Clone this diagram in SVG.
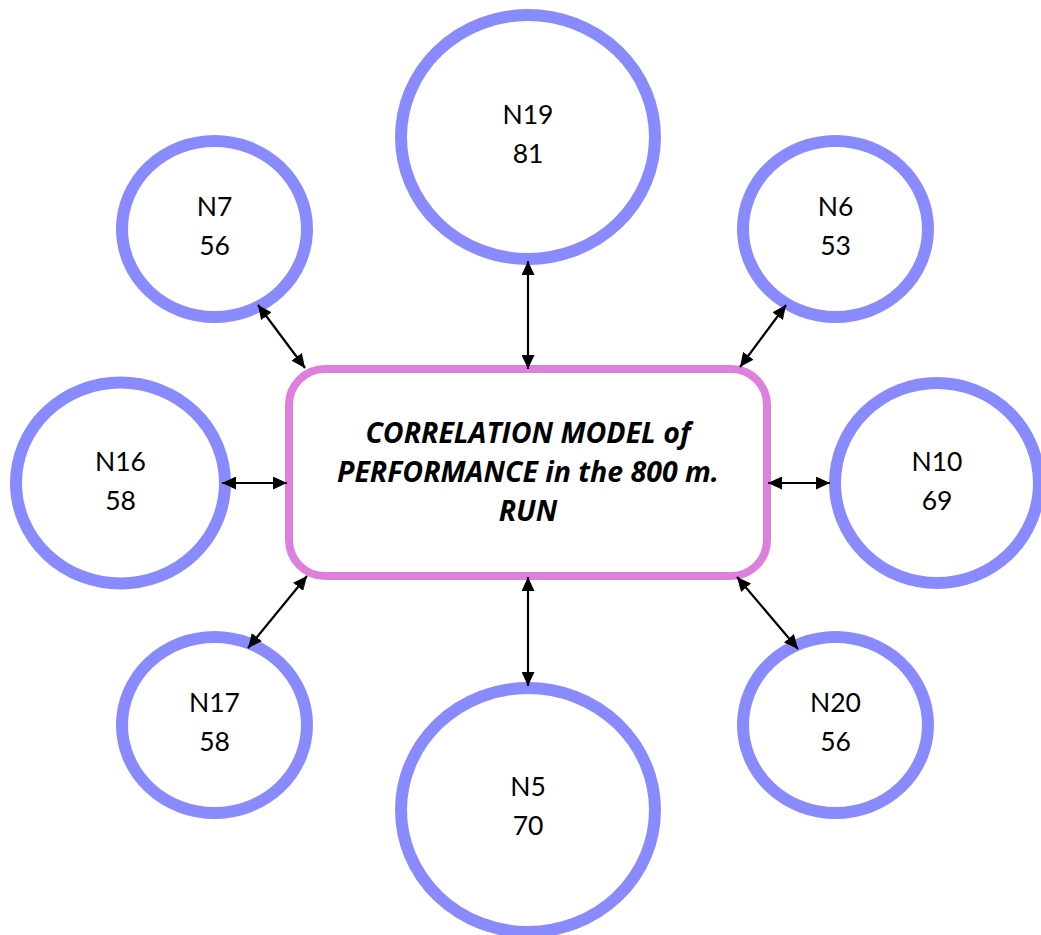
<svg xmlns="http://www.w3.org/2000/svg" width="1041" height="935" viewBox="0 0 1041 935">
  <style>
    .node ellipse { fill: #ffffff; stroke: #8a8aff; stroke-width: 12; }
    .node text { font-family: Lato, "Open Sans", "Liberation Sans", sans-serif; font-size: 26.5px; fill: #000000; text-anchor: middle; }
    .hub rect { fill: #ffffff; stroke: #dd80dd; stroke-width: 8; }
    .hub text { font-family: "Open Sans", Lato, "Liberation Sans", sans-serif; font-size: 28.5px; font-weight: bold; font-style: italic; fill: #000000; text-anchor: middle; }
    .links line { stroke: #000000; stroke-width: 2.2; marker-start: url(#head); marker-end: url(#head); }
  </style>
  <defs>
    <marker id="head" viewBox="0 0 14 13" refX="14" refY="6.5" markerWidth="14" markerHeight="13" orient="auto-start-reverse" markerUnits="userSpaceOnUse">
      <path d="M0,0 L14,6.5 L0,13 Z" fill="#000000"/>
    </marker>
  </defs>

  <rect width="1041" height="935" fill="#ffffff"/>

  <!-- central box -->
  <g id="hub" class="hub">
    <rect x="289" y="369" width="478" height="207" rx="36" ry="36"/>
    <text x="528" y="443">CORRELATION MODEL of</text>
    <text x="528" y="482">PERFORMANCE in the 800 m.</text>
    <text x="528" y="521">RUN</text>
  </g>

  <!-- surrounding nodes -->
  <g id="n19" class="node">
    <ellipse cx="528" cy="137" rx="127" ry="122"/>
    <text x="528" y="124">N19</text>
    <text x="528" y="163">81</text>
  </g>
  <g id="n7" class="node">
    <ellipse cx="214.5" cy="229" rx="92.5" ry="88"/>
    <text x="214.5" y="216">N7</text>
    <text x="214.5" y="255">56</text>
  </g>
  <g id="n6" class="node">
    <ellipse cx="835.5" cy="229" rx="92.5" ry="88"/>
    <text x="835.5" y="216">N6</text>
    <text x="835.5" y="255">53</text>
  </g>
  <g id="n16" class="node">
    <ellipse cx="120.5" cy="483" rx="104.5" ry="100.5"/>
    <text x="120.5" y="471">N16</text>
    <text x="120.5" y="510">58</text>
  </g>
  <g id="n10" class="node">
    <ellipse cx="937" cy="483" rx="102" ry="100"/>
    <text x="937" y="471">N10</text>
    <text x="937" y="510">69</text>
  </g>
  <g id="n17" class="node">
    <ellipse cx="214.5" cy="725" rx="92.5" ry="88"/>
    <text x="214.5" y="712">N17</text>
    <text x="214.5" y="751">58</text>
  </g>
  <g id="n20" class="node">
    <ellipse cx="835.5" cy="725" rx="92.5" ry="88"/>
    <text x="835.5" y="712">N20</text>
    <text x="835.5" y="751">56</text>
  </g>
  <g id="n5" class="node">
    <ellipse cx="528" cy="810" rx="127" ry="122"/>
    <text x="528" y="796">N5</text>
    <text x="528" y="835">70</text>
  </g>

  <!-- two-way connectors, drawn on top so the arrow tips meet the outlines -->
  <g id="connectors" class="links">
    <line x1="528" y1="369" x2="528" y2="261"/>
    <line x1="528" y1="577" x2="528" y2="686"/>
    <line x1="287" y1="483" x2="222" y2="483"/>
    <line x1="768" y1="483" x2="830" y2="483"/>
    <line x1="305" y1="368" x2="258" y2="305"/>
    <line x1="740" y1="367" x2="786" y2="305"/>
    <line x1="307" y1="576" x2="248" y2="648"/>
    <line x1="737" y1="577" x2="798" y2="649"/>
  </g>
</svg>
